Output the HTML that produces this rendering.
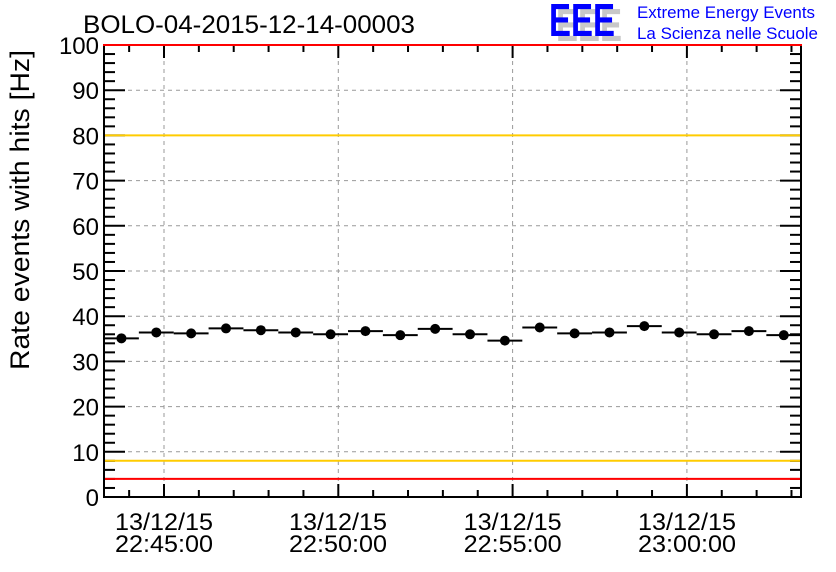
<!DOCTYPE html>
<html><head><meta charset="utf-8"><style>
html,body{margin:0;padding:0;background:#fff;}
svg{display:block;font-family:"Liberation Sans",Arial,sans-serif;}
</style></head><body>
<svg width="836" height="572" viewBox="0 0 836 572" xmlns="http://www.w3.org/2000/svg">
<rect width="836" height="572" fill="#fff"/>
<g id="grid" stroke="#999" stroke-width="1" stroke-dasharray="4,4" fill="none"></g>
<g id="ticks" stroke="#000" stroke-width="2" fill="none"></g>
<line x1="104" y1="460.8" x2="801" y2="460.8" stroke="#ffcc00" stroke-width="2"/>
<line x1="104" y1="135.4" x2="801" y2="135.4" stroke="#ffcc00" stroke-width="2"/>
<line x1="104" y1="478.9" x2="801" y2="478.9" stroke="#ff0000" stroke-width="2"/>
<rect x="104" y="45" width="697" height="452" fill="none" stroke="#000" stroke-width="2"/>
<line x1="103" y1="45" x2="802" y2="45" stroke="#ff0000" stroke-width="2"/>
<g id="data"></g>
<g font-size="24" fill="#000" text-anchor="end" id="ylab"></g>
<g font-size="24" fill="#000" text-anchor="middle">
<text x="164" y="530" textLength="98" lengthAdjust="spacingAndGlyphs">13/12/15</text><text x="164" y="552" textLength="98" lengthAdjust="spacingAndGlyphs">22:45:00</text>
<text x="338" y="530" textLength="98" lengthAdjust="spacingAndGlyphs">13/12/15</text><text x="338" y="552" textLength="98" lengthAdjust="spacingAndGlyphs">22:50:00</text>
<text x="512.6" y="530" textLength="98" lengthAdjust="spacingAndGlyphs">13/12/15</text><text x="512.6" y="552" textLength="98" lengthAdjust="spacingAndGlyphs">22:55:00</text>
<text x="687" y="530" textLength="98" lengthAdjust="spacingAndGlyphs">13/12/15</text><text x="687" y="552" textLength="98" lengthAdjust="spacingAndGlyphs">23:00:00</text>
</g>
<text x="29" y="210" font-size="27" text-anchor="middle" transform="rotate(-90 29 210)" textLength="320" lengthAdjust="spacingAndGlyphs">Rate events with hits [Hz]</text>
<text x="83" y="33" font-size="25" textLength="332" lengthAdjust="spacingAndGlyphs">BOLO-04-2015-12-14-00003</text>
<text x="556" y="41" font-size="46" font-weight="bold" fill="#c8c8c8" textLength="66" lengthAdjust="spacingAndGlyphs">EEE</text>
<text x="549" y="36" font-size="46" font-weight="bold" fill="#0000ff" textLength="66" lengthAdjust="spacingAndGlyphs">EEE</text>
<text x="637" y="18" font-size="17" fill="#0000ff" textLength="178" lengthAdjust="spacingAndGlyphs">Extreme Energy Events</text>
<text x="637" y="39" font-size="17" fill="#0000ff" textLength="181" lengthAdjust="spacingAndGlyphs">La Scienza nelle Scuole</text>
<script>
(function(){
var ns="http://www.w3.org/2000/svg";
function el(p,t,a){var e=document.createElementNS(ns,t);for(var k in a)e.setAttribute(k,a[k]);p.appendChild(e);return e;}
var g=document.getElementById('grid'),tk=document.getElementById('ticks'),d=document.getElementById('data'),yl=document.getElementById('ylab');
function Y(v){return 497-v*4.52;}
for(var v=0;v<=100;v+=2){var y=Y(v);var maj=v%10==0;var L=maj?21:11;
el(tk,'line',{x1:104,y1:y,x2:104+L,y2:y});el(tk,'line',{x1:801,y1:y,x2:801-L,y2:y});
if(maj){var t=el(yl,'text',{x:99,y:y+9});t.textContent=v;if(v>0&&v<100)el(g,'line',{x1:104,y1:y,x2:801,y2:y});}}
var bw=34.86;
for(var i=-1;i<20;i++){var x=164+i*bw;if(x<105||x>800)continue;var maj=((i%5)+5)%5==0;var L=maj?13:7;
el(tk,'line',{x1:x,y1:497,x2:x,y2:497-L});el(tk,'line',{x1:x,y1:45,x2:x,y2:45+L});
if(maj)el(g,'line',{x1:x,y1:45,x2:x,y2:497});}
var vals=[35.1,36.4,36.2,37.3,36.9,36.4,36.0,36.7,35.8,37.2,36.0,34.6,37.5,36.2,36.4,37.8,36.4,36.0,36.7,35.8];
for(var i=0;i<20;i++){var x0=104+i*bw,y=Y(vals[i]);
el(d,'line',{x1:x0,y1:y,x2:x0+bw,y2:y,stroke:'#000','stroke-width':2});
el(d,'circle',{cx:x0+bw/2,cy:y,r:5,fill:'#000'});}
})();
</script>
</svg>
</body></html>
